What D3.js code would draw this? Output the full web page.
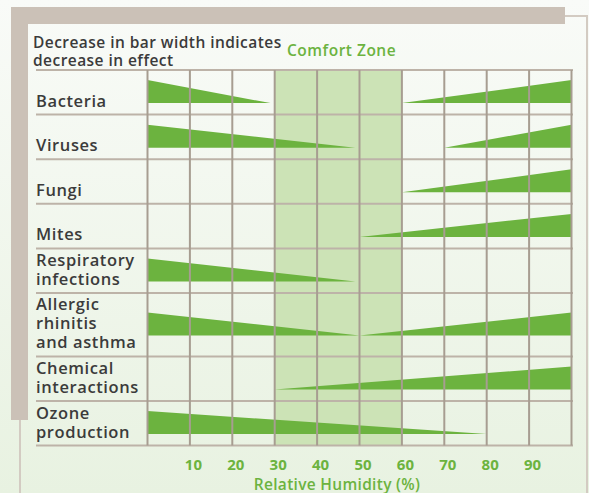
<!DOCTYPE html>
<html>
<head>
<meta charset="utf-8">
<script src="https://cdn.jsdelivr.net/npm/d3@7"></script>
<style>
  body { margin: 0; background: #f6f9f4; }
  svg { display: block; font-family: "Open Sans", sans-serif; }
</style>
</head>
<body>
<div id="chart"></div>
<script>
const width = 589;
const height = 493;

// row labels, split the way the picture wraps them
const categories = [
  ["Bacteria"],
  ["Viruses"],
  ["Fungi"],
  ["Mites"],
  ["Respiratory", "infections"],
  ["Allergic", "rhinitis", "and asthma"],
  ["Chemical", "interactions"],
  ["Ozone", "production"]
];
// humidity where the "too dry" wedge runs out (null = no wedge)
const dryEnd = [29, 49, null, null, 49, 50, null, 80];
// humidity where the "too humid" wedge starts (null = no wedge)
const wetStart = [60, 70, 60, 50, null, 50, 30, null];
const comfortZone = [30, 60];
const tickValues = [10, 20, 30, 40, 50, 60, 70, 80, 90];

const green = "#6cb33f";
const tan = "#cbc1b7";

const svg = d3.select("#chart").append("svg")
    .attr("width", width)
    .attr("height", height);

const defs = svg.append("defs");
const grad = defs.append("linearGradient").attr("id", "bg")
    .attr("x1", 0).attr("y1", 0).attr("x2", 0).attr("y2", 1);
grad.append("stop").attr("offset", 0).attr("stop-color", "#f9fbf8");
grad.append("stop").attr("offset", 1).attr("stop-color", "#e8f2e1");
svg.append("rect").attr("width", width).attr("height", height).attr("fill", "url(#bg)");

// frame pieces
svg.append("rect").attr("x", 11).attr("y", 7).attr("width", 554).attr("height", 17).attr("fill", tan);
svg.append("rect").attr("x", 11).attr("y", 24).attr("width", 17).attr("height", 396).attr("fill", tan);
svg.append("path")
    .attr("d", "M565,16 H587 V493")
    .attr("fill", "none").attr("stroke", "#d3cbc2").attr("stroke-width", 2);
svg.append("line").attr("x1", 20).attr("x2", 20).attr("y1", 420).attr("y2", 493)
    .attr("stroke", "#d3cbc2").attr("stroke-width", 2);

// layout of rows (third line makes a row taller)
const lineGap = 19;
const rowHeights = categories.map(c => Math.max(44.6, c.length * lineGap + 6.4));
const plotTop = 70;
const rowTops = [plotTop, ...d3.cumsum(rowHeights).map(v => plotTop + v)];
const plotBottom = rowTops[rowTops.length - 1];

const x = d3.scaleLinear().domain([0, 100]).range([147.5, 571.5]);
const effect = d3.scaleLinear().domain([0, 1]).range([0, 23]);

// comfort zone band
svg.append("rect")
    .attr("x", x(comfortZone[0]))
    .attr("y", plotTop)
    .attr("width", x(comfortZone[1]) - x(comfortZone[0]))
    .attr("height", plotBottom - plotTop)
    .attr("fill", "#cce3b6");

// wedges
const wedges = [];
categories.forEach((c, i) => {
  const mid = (rowTops[i] + rowTops[i + 1]) / 2 - 0.7;
  const base = mid + effect(1) / 2;
  if (dryEnd[i] != null) wedges.push({ base, pts: [{ h: 0, e: 1 }, { h: dryEnd[i], e: 0 }] });
  if (wetStart[i] != null) wedges.push({ base, pts: [{ h: wetStart[i], e: 0 }, { h: 100, e: 1 }] });
});

svg.append("g").selectAll("path")
  .data(wedges)
  .join("path")
    .attr("fill", green)
    .attr("d", w => d3.area()
        .x(p => x(p.h))
        .y0(w.base)
        .y1(p => w.base - effect(p.e))(w.pts));

// horizontal rules
svg.append("g").selectAll("line")
  .data(rowTops)
  .join("line")
    .attr("x1", 36).attr("x2", 573)
    .attr("y1", d => d).attr("y2", d => d)
    .attr("stroke", "#bdb3a8").attr("stroke-width", 2);

// vertical grid
svg.append("g").selectAll("line")
  .data(d3.range(0, 101, 10))
  .join("line")
    .attr("x1", d => x(d)).attr("x2", d => x(d))
    .attr("y1", plotTop).attr("y2", plotBottom)
    .attr("stroke", "#a79d91").attr("stroke-width", 2);

// row labels, one text per row with a tspan per line
svg.append("g")
    .attr("fill", "#3b3b3b")
    .attr("font-size", 16.5)
    .attr("font-weight", 600)
    .attr("letter-spacing", 0.6)
  .selectAll("text")
  .data(categories)
  .join("text")
    .attr("y", (c, i) => rowTops[i + 1] - 8 - (c.length - 1) * lineGap)
  .selectAll("tspan")
  .data(c => c)
  .join("tspan")
    .attr("x", 36)
    .attr("dy", (t, j) => j === 0 ? 0 : lineGap)
    .text(t => t);

// header note
const note = svg.append("text")
    .attr("y", 48.3)
    .attr("fill", "#3b3b3b")
    .attr("font-size", 15.5)
    .attr("font-weight", 600)
    .attr("letter-spacing", 0.45);
note.append("tspan").attr("x", 33).text("Decrease in bar width indicates");
note.append("tspan").attr("x", 33).attr("dy", 17.4).text("decrease in effect");

svg.append("text")
    .attr("x", 287).attr("y", 56)
    .attr("fill", green)
    .attr("font-size", 15.5)
    .attr("font-weight", 600)
    .attr("letter-spacing", 0.5)
    .text("Comfort Zone");

// x axis
const axis = svg.append("g")
    .attr("transform", `translate(0,${plotBottom})`)
    .call(d3.axisBottom(x).tickValues(tickValues).tickSize(0).tickPadding(14));
axis.select(".domain").remove();
axis.selectAll("text")
    .attr("fill", green)
    .attr("font-family", "\"Open Sans\", sans-serif")
    .attr("font-size", 15)
    .attr("font-weight", 700)
    .attr("dx", 3);

svg.append("text")
    .attr("x", 337).attr("y", 489.5)
    .attr("text-anchor", "middle")
    .attr("fill", green)
    .attr("font-size", 15.5)
    .attr("font-weight", 600)
    .attr("letter-spacing", 0.3)
    .text("Relative Humidity (%)");
</script>
</body>
</html>
